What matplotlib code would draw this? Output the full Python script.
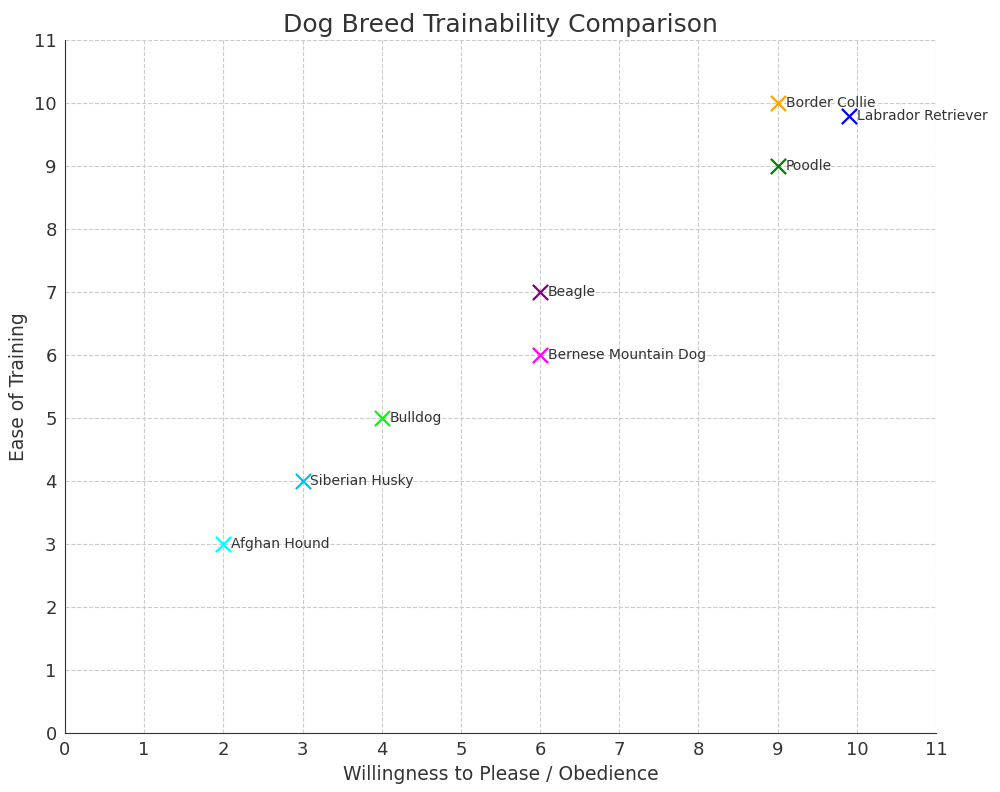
import matplotlib
matplotlib.use('Agg')
import matplotlib.pyplot as plt

breeds = ['Border Collie', 'Labrador Retriever', 'Poodle', 'Beagle',
          'Bernese Mountain Dog', 'Bulldog', 'Siberian Husky', 'Afghan Hound']
obedience = [9, 9.9, 9, 6, 6, 4, 3, 2]
ease = [10, 9.8, 9, 7, 6, 5, 4, 3]
colors = ['orange', 'blue', 'green', 'purple', 'magenta', 'lime',
          'deepskyblue', 'cyan']

TEXT = '#333333'
plt.rcParams.update({'font.family': 'DejaVu Sans', 'text.color': TEXT,
                     'axes.labelcolor': TEXT, 'xtick.color': TEXT,
                     'ytick.color': TEXT})

fig = plt.figure(figsize=(10, 7.92), dpi=100)
ax = fig.add_axes([0.065, 0.0745, 0.871, 0.875])

for name, x, y, c in zip(breeds, obedience, ease, colors):
    ax.scatter(x, y, marker='x', color=c, s=120, linewidths=1.6, zorder=3)
    ax.text(x + 0.1, y, name, fontsize=10, va='center', ha='left', color=TEXT)

ax.set_xlim(0, 11)
ax.set_ylim(0, 11)
ax.set_xticks(range(12))
ax.set_yticks(range(12))
ax.tick_params(length=0, labelsize=13, pad=6)
ax.grid(True, linestyle='--', color='#cccccc', linewidth=0.8)
ax.set_axisbelow(True)
for s in ['top', 'right']:
    ax.spines[s].set_visible(False)
for s in ['left', 'bottom']:
    ax.spines[s].set_color(TEXT)

ax.set_title('Dog Breed Trainability Comparison', fontsize=18, color=TEXT, pad=6)
ax.set_xlabel('Willingness to Please / Obedience', fontsize=13.5)
ax.set_ylabel('Ease of Training', fontsize=13.5)

fig.savefig('out.png', dpi=100)
